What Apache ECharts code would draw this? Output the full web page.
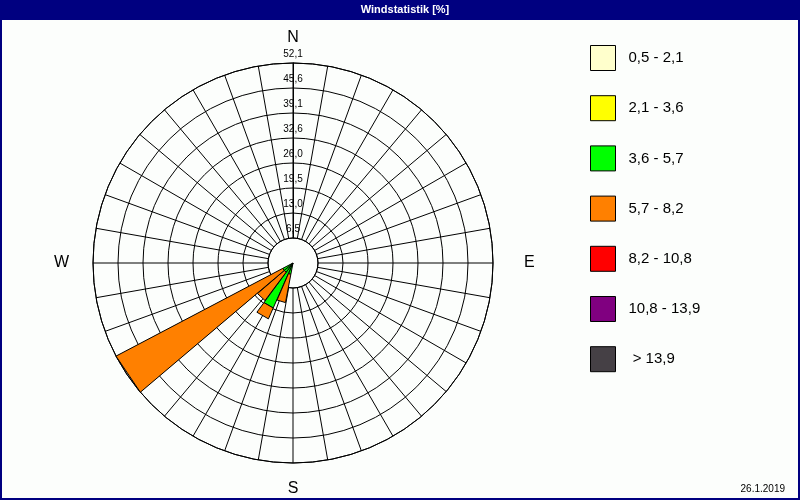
<!DOCTYPE html>
<html>
<head>
<meta charset="utf-8">
<script src="https://cdn.jsdelivr.net/npm/echarts@6/dist/echarts.min.js"></script>
<style>
html,body{margin:0;padding:0;background:#fcfefc;}
#chart{width:800px;height:500px;}
</style>
</head>
<body>
<div id="chart"></div>
<script>
// ---- data ----
const chartTitle = 'Windstatistik [%]';
const dateText = '26.1.2019';
const classNames = ['0,5 - 2,1', '2,1 - 3,6', '3,6 - 5,7', '5,7 - 8,2', '8,2 - 10,8', '10,8 - 13,9', ' > 13,9'];
const classColors = ['#ffffcc', '#ffff00', '#00ff00', '#ff8000', '#ff0000', '#800080', '#454045'];
const directions = [197, 210, 223, 236];          // wind direction (deg)
const class1 = [0, 0, 0, 0];                        // 0,5 - 2,1
const class2 = [0, 0, 0, 0];                        // 2,1 - 3,6
const class3 = [3.0, 12.8, 3.0, 3.0];               // 3,6 - 5,7
const class4 = [7.5, 3.1, 9.2, 49.1];               // 5,7 - 8,2
const class5 = [0, 0, 0, 0];                        // 8,2 - 10,8
const class6 = [0, 0, 0, 0];                        // 10,8 - 13,9
const class7 = [0, 0, 0, 0];                        // > 13,9
const radiusTickLabels = ['6,5', '13,0', '19,5', '26,0', '32,6', '39,1', '45,6', '52,1'];
const compassLabels = {0: 'N', 90: 'E', 180: 'S', 270: 'W'};
const radiusMax = 52.1;

// ---- build ----
const classValues = [class1, class2, class3, class4, class5, class6, class7];
const step = radiusMax / 8;
const wedgeWidth = 12.5;

function renderWedge(params, api) {
  const outer = api.value(0), dir = api.value(1), inner = api.value(2);
  if (!(outer - inner > 0)) return null;
  const h = wedgeWidth / 2;
  const pts = [[inner, dir - h], [outer, dir - h], [outer, dir + h], [inner, dir + h]].map(p => api.coord(p));
  return {
    type: 'polygon',
    shape: {points: pts},
    style: {fill: api.visual('color'), stroke: '#000', lineWidth: 1}
  };
}

const cumulative = directions.map(() => 0);
const series = classValues.map((vals, k) => {
  const data = directions.map((d, i) => {
    const start = cumulative[i];
    const end = start + vals[i];
    cumulative[i] = end;
    return [end, d, start];
  });
  return {
    type: 'custom',
    name: classNames[k],
    coordinateSystem: 'polar',
    clip: false,
    silent: true,
    itemStyle: {color: classColors[k], borderColor: '#000', borderWidth: 1},
    encode: {radius: 0, angle: 1},
    renderItem: renderWedge,
    data: data,
    z: 5
  };
});

const chart = echarts.init(document.getElementById('chart'), null, {renderer: 'canvas'});
chart.setOption({
  animation: false,
  backgroundColor: '#fcfefc',
  polar: {center: [293, 263], radius: [25, 200]},
  angleAxis: {
    type: 'value', min: 0, max: 360, interval: 10,
    startAngle: 90, clockwise: true,
    axisLine: {show: true, lineStyle: {color: '#000', width: 1}},
    axisTick: {show: false},
    splitLine: {show: true, lineStyle: {color: '#000', width: 1}},
    axisLabel: {
      margin: 15, color: '#000', fontSize: 16, fontFamily: 'Liberation Sans',
      formatter: function (v) {
        const t = compassLabels[v];
        if (!t || v === 360) return '';
        return '{' + t.toLowerCase() + '|' + t + '}';
      },
      rich: {
        n: {fontSize: 16, fontFamily: 'Liberation Sans', color: '#000', padding: [0, 0, 2, 0]},
        s: {fontSize: 16, fontFamily: 'Liberation Sans', color: '#000', padding: [3, 0, 0, 0]},
        e: {fontSize: 16, fontFamily: 'Liberation Sans', color: '#000', padding: [0, 0, 0, 16]},
        w: {fontSize: 16, fontFamily: 'Liberation Sans', color: '#000', padding: [0, 9, 0, 0]}
      }
    }
  },
  radiusAxis: {
    type: 'value', min: step, max: radiusMax, interval: step,
    axisLine: {show: true, lineStyle: {color: '#000', width: 1}},
    axisTick: {show: false},
    splitLine: {show: true, lineStyle: {color: '#000', width: 1}},
    axisLabel: {
      margin: 0, align: 'center', verticalAlign: 'bottom',
      fontSize: 10, color: '#000', fontFamily: 'Liberation Sans',
      padding: [0, 0, 4, 0],
      formatter: function (v) {
        const i = Math.round(v / step) - 1;
        return radiusTickLabels[i] || '';
      }
    },
    z: 3
  },
  legend: {
    orient: 'vertical', left: 590, top: 45, padding: 0,
    itemWidth: 25, itemHeight: 25, itemGap: 24.2,
    icon: 'rect', selectedMode: false,
    itemStyle: {borderColor: '#000', borderWidth: 1},
    textStyle: {fontSize: 15, color: '#000', fontFamily: 'Liberation Sans', padding: [0, 0, 0, 8]},
    data: classNames
  },
  graphic: [
    {type: 'rect', left: 0, top: 0, shape: {width: 800, height: 20}, style: {fill: '#000080'}, z: 10},
    {type: 'text', x: 405, y: 10, style: {text: chartTitle, fill: '#fff', font: 'bold 11px "Liberation Sans"', textAlign: 'center', textVerticalAlign: 'middle'}, z: 11},
    {type: 'rect', shape: {x: 1, y: 1, width: 798, height: 498}, style: {fill: null, stroke: '#000080', lineWidth: 2}, z: 10},
    {type: 'text', x: 785, y: 489, style: {text: dateText, fill: '#000', font: '10px "Liberation Sans"', textAlign: 'right', textVerticalAlign: 'middle'}, z: 11}
  ],
  series: series
});
</script>
</body>
</html>
